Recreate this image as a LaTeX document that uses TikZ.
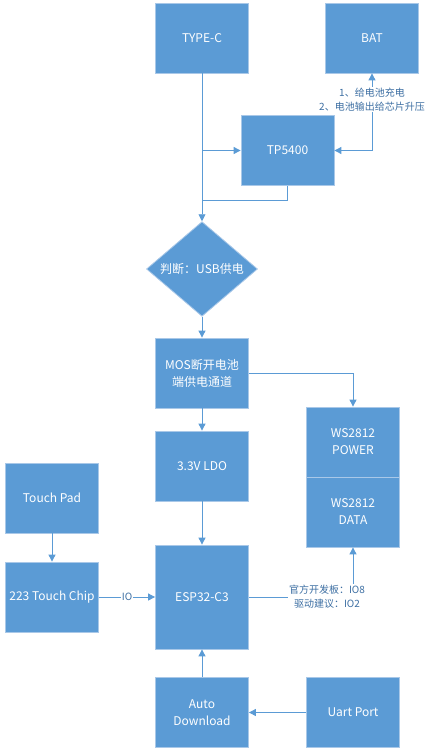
\documentclass[tikz,border=0pt]{standalone}
\usepackage{fontspec}
\setmainfont{Noto Sans CJK SC}
\usetikzlibrary{shapes.geometric, arrows.meta, positioning}

\definecolor{boxblue}{HTML}{5B9BD5}
\definecolor{boxline}{HTML}{A9C8E8}
\definecolor{notetext}{HTML}{3D6FA3}

\begin{document}
\begin{tikzpicture}[x=1pt, y=-1pt,
    >={Triangle[width=7pt,length=7pt]},
    block/.style={rectangle, fill=boxblue, draw=boxline, line width=0.8pt, text=white,
        minimum width=93pt, minimum height=70pt, inner sep=2pt, align=center,
        font=\fontsize{12}{17}\selectfont},
    decide/.style={diamond, fill=boxblue, draw=boxline, line width=0.8pt, text=white,
        minimum width=111pt, minimum height=82pt, inner sep=0pt,
        font=\fontsize{12}{17}\selectfont},
    link/.style={draw=boxblue, line width=0.9pt},
    note/.style={fill=white, text=notetext, inner sep=1pt, align=center,
        font=\fontsize{10}{14}\selectfont}]
            \useasboundingbox (0,0) rectangle (434,756);

            % power path
            \node[block] (typec) at (202,38) {TYPE-C};
            \node[block] (bat) at (372,38) {BAT};
            \node[block] (tp) at (287.5,150.5) {TP5400};
            \node[decide] (judge) at (202,269) {判断：USB供电};
            \node[block] (mos) at (202,373) {MOS断开电池\\端供电通道};
            \node[block] (ldo) at (202,466) {3.3V LDO};

            % led
            \node[block] (wspow) at (353,442) {WS2812\\POWER};
            \node[block] (wsdata) at (353,512) {WS2812\\DATA};

            % touch, mcu and download
            \node[block] (pad) at (52,498) {Touch Pad};
            \node[block] (chip) at (52,597) {223 Touch Chip};
            \node[block, minimum height=104pt] (esp) at (202,597) {ESP32-C3};
            \node[block] (auto) at (202,712.5) {Auto\\Download};
            \node[block] (uart) at (353,712.5) {Uart Port};

            \coordinate (merge) at (typec.south |- 0,200);

            % connectors
            \draw[link, ->] (typec) -- (judge);
            \draw[link, ->] (typec.south |- tp.west) -- (tp.west);
            \draw[link] (tp.south) |- (merge);
            \draw[link, <->] (tp.east) -| (bat.south)
                node[note, pos=0.83] {1、给电池充电\\2、电池输出给芯片升压};
            \draw[link, ->] (judge) -- (mos);
            \draw[link, ->] (mos) -- (ldo);
            \draw[link, ->] (mos.east) -| (wspow.north);
            \draw[link, ->] (ldo) -- (esp);
            \draw[link, ->] (pad) -- (chip);
            \draw[link, ->] (chip) -- (esp) node[note, midway] {IO};
            \draw[link, ->] (esp.east) -| (wsdata.south)
                node[note, pos=0.375] {官方开发板：IO8\\驱动建议：IO2};
            \draw[link, ->] (auto) -- (esp);
            \draw[link, ->] (uart) -- (auto);
        \end{tikzpicture}
\end{document}
